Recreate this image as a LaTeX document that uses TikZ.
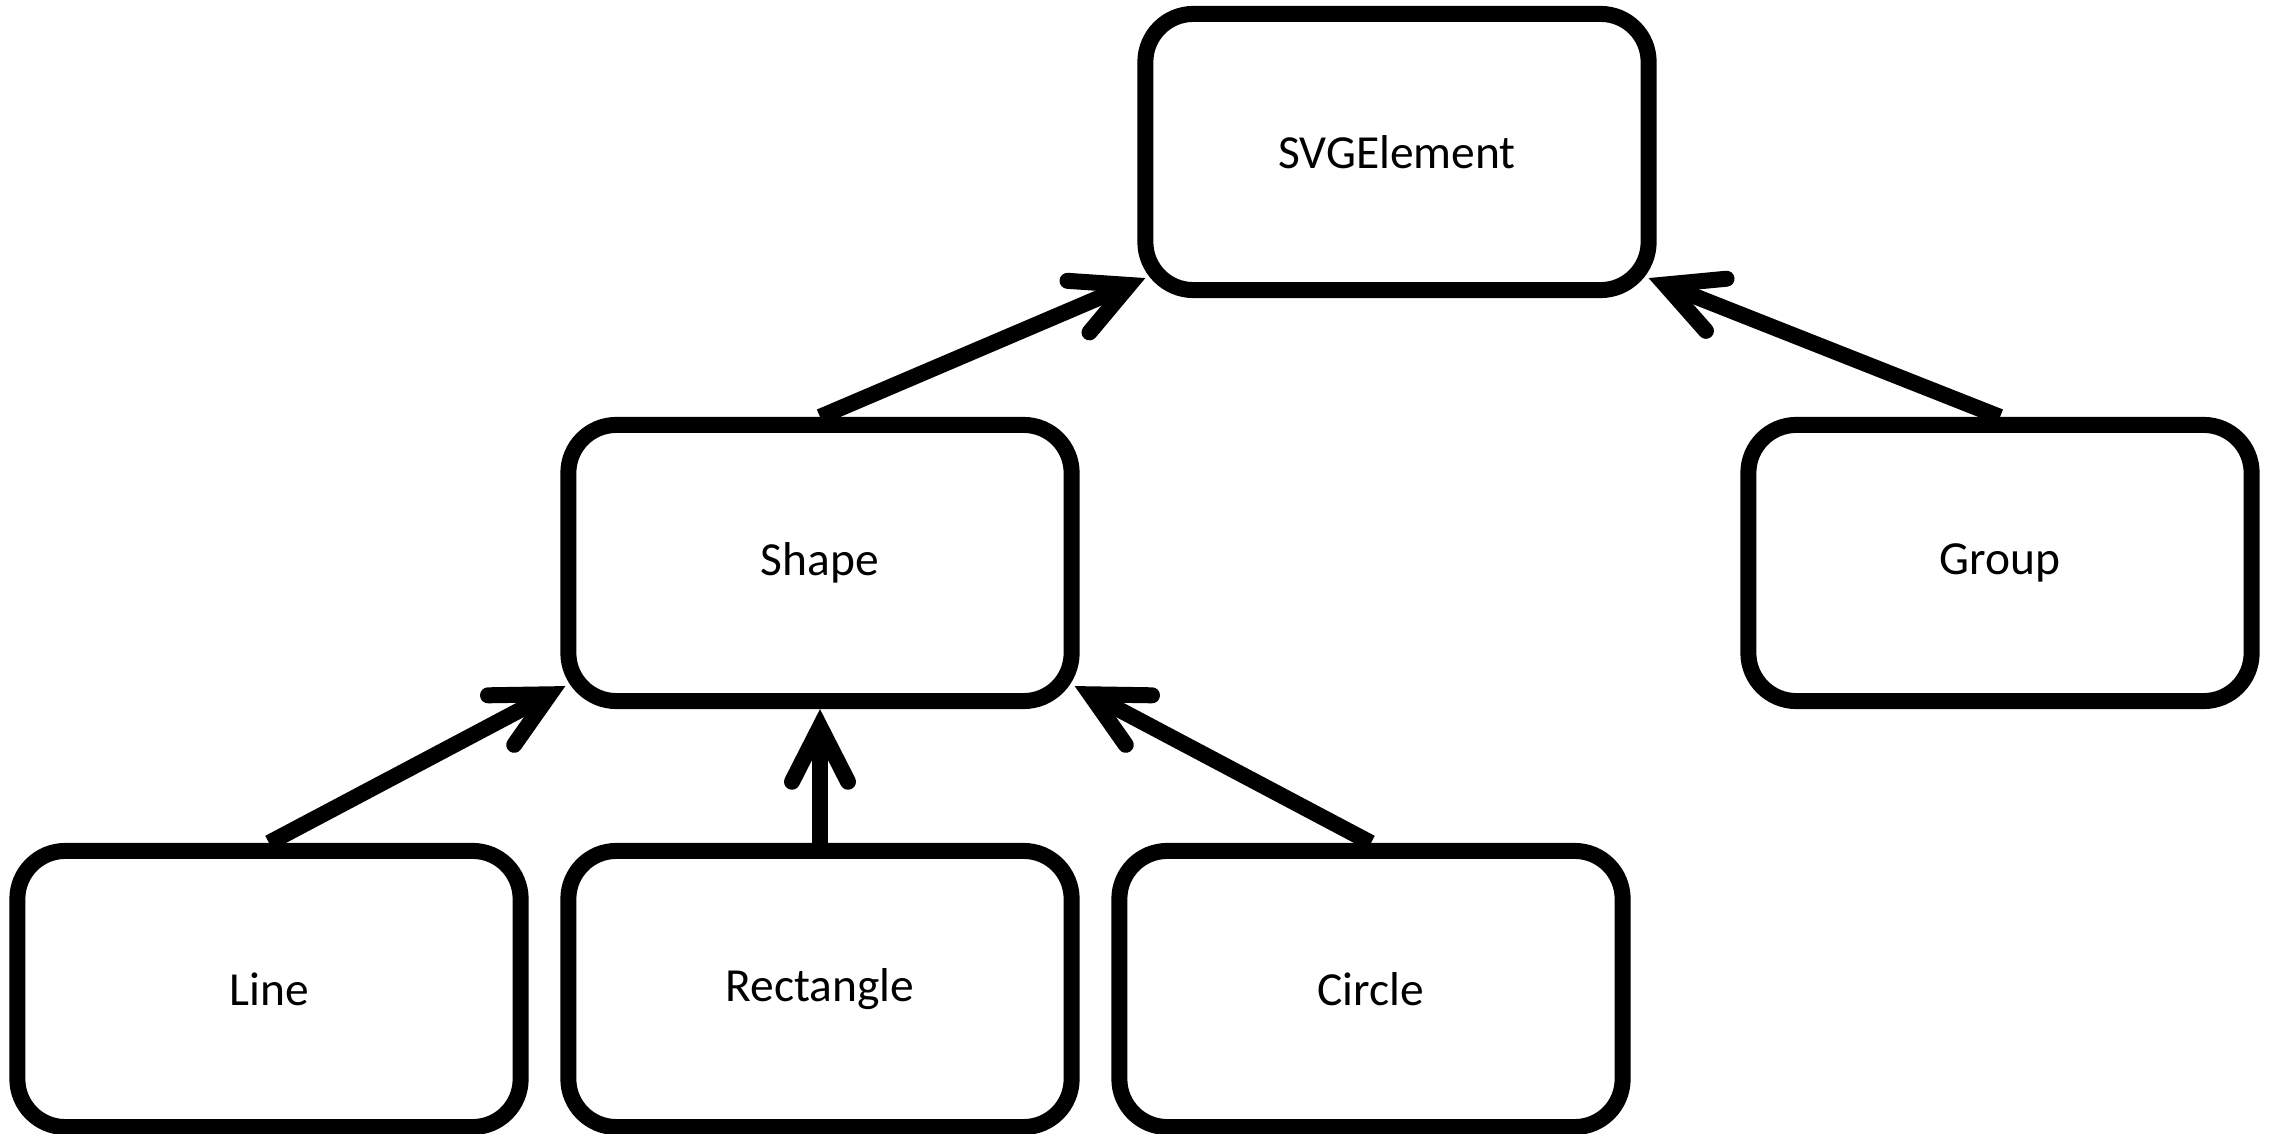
\documentclass[tikz,border=0pt]{standalone}
\usepackage{fontspec}
\setmainfont{Carlito}
\usetikzlibrary{arrows.meta,calc}
\begin{document}
\begin{tikzpicture}[x=0.01cm,y=0.01cm,
  cls/.style={draw=black, line width=0.16cm, rounded corners=0.48cm, fill=white,
    minimum width=5.03cm, minimum height=2.76cm, inner sep=0pt,
    font=\fontsize{13.5pt}{16pt}\selectfont},
  inherit/.style={line width=0.16cm,
    -{Straight Barb[length=0.55cm, width=0.56cm, line cap=round, line join=miter]}}]
\useasboundingbox (0,0) rectangle (2272,-1134);
\fill[white] (0,0) rectangle (2272,-1134);
\node[cls] (svg) at (1397,-152) {SVGElement};
\node[cls] (shape) at (820,-563) {Shape};
\node[cls] (group) at (2000,-563) {Group};
\node[cls] (line) at (269,-989) {Line};
\node[cls] (rect) at (820,-989) {Rectangle};
\node[cls] (circle) at (1371,-989) {Circle};
\coordinate (svgL) at ($(svg.south west)+(8,20)$);
\coordinate (svgR) at ($(svg.south east)+(-8,20)$);
\coordinate (shapeL) at ($(shape.south west)+(5,23)$);
\coordinate (shapeR) at ($(shape.south east)+(-5,23)$);
\draw[inherit] (shape.north) -- (svgL);
\draw[inherit] (group.north) -- (svgR);
\draw[inherit] (line.north) -- (shapeL);
\draw[inherit] (rect.north) -- (shape.south);
\draw[inherit] (circle.north) -- (shapeR);
\end{tikzpicture}
\end{document}
